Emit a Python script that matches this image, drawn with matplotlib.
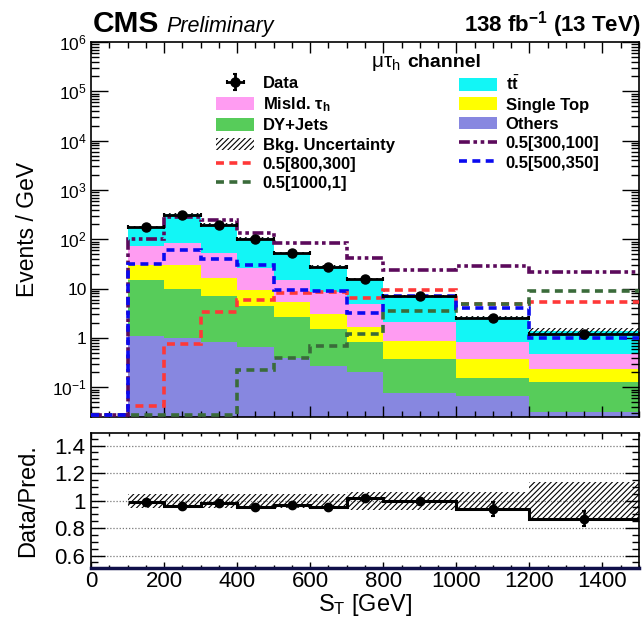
import numpy as np
import matplotlib
matplotlib.use('Agg')
import matplotlib.pyplot as plt
from matplotlib.patches import Patch
from matplotlib.lines import Line2D
from matplotlib.ticker import FixedLocator, MultipleLocator, FuncFormatter, LogLocator, NullFormatter

plt.rcParams['font.family'] = ['Liberation Sans', 'DejaVu Sans']
plt.rcParams['mathtext.fontset'] = 'custom'
plt.rcParams['mathtext.rm'] = 'Liberation Sans'
plt.rcParams['mathtext.it'] = 'Liberation Sans:italic'
plt.rcParams['mathtext.bf'] = 'Liberation Sans:bold'
plt.rcParams['hatch.linewidth'] = 0.8

# ---------------- data ----------------
bin_edges = [100, 200, 300, 400, 500, 600, 700, 800, 1000, 1200, 1500]
signal_edges = [0, 100, 200, 300, 400, 500, 600, 700, 800, 1000, 1200, 1500]

others = [1.1, 1.0, 0.83, 0.66, 0.40, 0.27, 0.205, 0.075, 0.067, 0.032]
dyjets = [13.8, 9.0, 6.2, 3.84, 2.3, 1.23, 0.63, 0.305, 0.088, 0.098]
single_top = [15.1, 20.0, 9.5, 4.8, 2.6, 1.5, 0.85, 0.49, 0.215, 0.11]
misid_tau = [43.0, 55.0, 35.5, 16.4, 9.5, 5.6, 3.2, 1.23, 0.46, 0.23]
ttbar = [104.0, 237.0, 148.0, 79.3, 39.2, 20.4, 10.8, 5.0, 1.82, 0.9]

data = [175, 310, 195, 100, 52, 27.7, 16.0, 7.1, 2.5, 1.2]

ratio = [0.988, 0.961, 0.985, 0.957, 0.966, 0.952, 1.017, 0.998, 0.94, 0.867]
ratio_err = [0.010, 0.010, 0.012, 0.012, 0.015, 0.017, 0.02, 0.02, 0.05, 0.055]
unc_low = [0.944, 0.944, 0.944, 0.944, 0.944, 0.944, 0.935, 0.932, 0.932, 0.865]
unc_high = [1.046, 1.046, 1.046, 1.046, 1.046, 1.046, 1.062, 1.065, 1.065, 1.138]

sig_300_100 = [0, 100, 285, 245, 135, 83, 83, 41, 23.7, 28.6, 21.3]
sig_500_350 = [0, 31, 62, 40, 30, 9.6, 8.9, 3.2, 7.0, 4.0, 1.0]
sig_800_300 = [0, 0.042, 0.74, 3.3, 5.85, 8.0, 8.6, 6.6, 9.3, 4.9, 5.4]
sig_1000_1 = [0, 0, 0, 0, 0.22, 0.40, 0.68, 1.19, 3.5, 4.9, 9.0]

y_ticks_main = [1e-1, 1, 10, 1e2, 1e3, 1e4, 1e5, 1e6]
x_ticks = [0, 200, 400, 600, 800, 1000, 1200, 1400]
ratio_ticks = [0.6, 0.8, 1.0, 1.2, 1.4]

# ---------------- styling ----------------
C_OTH = '#8787E0'
C_DY = '#57CC5A'
C_ST = '#FFFF00'
C_MIS = '#FF9CF2'
C_TT = '#12F6F6'
C_RED = '#FF3838'
C_GRN = '#3A6B3A'
C_PUR = '#5C0A5C'
C_BLU = '#0A0AF0'

YMIN, YMAX = 0.025, 1e6
W, H = 642, 622
fig = plt.figure(figsize=(W / 100, H / 100), dpi=100)

ax = fig.add_axes([91 / W, 1 - 417 / H, (639 - 91) / W, (417 - 42) / H])
axr = fig.add_axes([91 / W, 1 - 568 / H, (639 - 91) / W, (568 - 432.5) / H])

edges = np.array(bin_edges, dtype=float)
sedges = np.array(signal_edges, dtype=float)
centers = 0.5 * (edges[:-1] + edges[1:])
half = 0.5 * np.diff(edges)

comps = [(others, C_OTH), (dyjets, C_DY), (single_top, C_ST), (misid_tau, C_MIS), (ttbar, C_TT)]
base = np.full(len(others), YMIN * 0.5)
cum = np.zeros(len(others))
for vals, col in comps:
    top = cum + np.array(vals)
    ax.stairs(top, edges, baseline=base if cum.sum() == 0 else cum, fill=True,
              facecolor=col, edgecolor='none', linewidth=0, zorder=1)
    cum = top
total = cum

# bkg uncertainty band
ax.stairs(total * np.array(unc_high), edges, baseline=total * np.array(unc_low), fill=True,
          facecolor='none', edgecolor='black', hatch='//////', linewidth=0, zorder=2)

# signals
DASH = (0, (2.2, 1.5))
DASHDOT = (0, (3.0, 1.0, 1.0, 1.0, 1.0, 1.0))
sig_styles = [
    (sig_800_300, C_RED, DASH),
    (sig_1000_1, C_GRN, DASH),
    (sig_300_100, C_PUR, DASHDOT),
    (sig_500_350, C_BLU, DASH),
]
for vals, col, ls in sig_styles:
    v = np.clip(np.array(vals, dtype=float), YMIN * 1.08, None)
    ax.stairs(v, sedges, baseline=None, color=col, linewidth=2.6, linestyle=ls, zorder=3)

# data
data_arr = np.array(data, dtype=float)
data_err = data_arr * np.array(ratio_err) / np.array(ratio)
eb = ax.errorbar(centers, data_arr, xerr=half, yerr=data_err, fmt='o', color='black',
                 ms=6.5, lw=2.0, capsize=1.5, capthick=1.5, zorder=4)

ax.set_yscale('log')
ax.set_xlim(0, 1500)
ax.set_ylim(YMIN, YMAX)
ax.yaxis.set_major_locator(FixedLocator(y_ticks_main))


def fmt_log(v, pos):
    e = int(round(np.log10(v)))
    if e == 0:
        return '1'
    if e == 1:
        return '10'
    return r'$10^{%d}$' % e


ax.yaxis.set_major_formatter(FuncFormatter(fmt_log))
ax.yaxis.set_minor_locator(LogLocator(base=10, subs=np.arange(2, 10), numticks=20))
ax.yaxis.set_minor_formatter(NullFormatter())
ax.xaxis.set_major_locator(FixedLocator(x_ticks))
ax.xaxis.set_minor_locator(MultipleLocator(50))
ax.tick_params(which='both', direction='in', top=True, right=True, labelbottom=False)
ax.xaxis.set_tick_params(which='major', length=8, width=1)
ax.xaxis.set_tick_params(which='minor', length=4, width=1)
ax.yaxis.set_tick_params(which='major', length=12, width=1, labelsize=12.5, pad=3)
ax.yaxis.set_tick_params(which='minor', length=6, width=1)
ax.set_ylabel('Events / GeV', fontsize=16.5)
ax.yaxis.set_label_coords(-0.095, 0.5)
for s in ax.spines.values():
    s.set_linewidth(1.2)

# ratio panel
for t in ratio_ticks:
    axr.axhline(t, color='#777777', lw=0.9, ls=(0, (1, 1.5)), zorder=0)
axr.stairs(np.array(unc_high), edges, baseline=np.array(unc_low), fill=True,
           facecolor='none', edgecolor='black', hatch='//////', linewidth=0, zorder=1)
axr.stairs(np.array(ratio), edges, baseline=None, color='black', linewidth=2.2, zorder=2)
axr.errorbar(centers, ratio, yerr=ratio_err, fmt='o', color='black', ms=6, lw=1.8,
             capsize=1.5, capthick=1.5, zorder=3)
axr.set_xlim(0, 1500)
axr.set_ylim(0.51, 1.495)
axr.yaxis.set_major_locator(FixedLocator(ratio_ticks))
axr.yaxis.set_major_formatter(FuncFormatter(lambda v, p: '%g' % v))
axr.yaxis.set_minor_locator(MultipleLocator(0.05))
axr.xaxis.set_major_locator(FixedLocator(x_ticks))
axr.xaxis.set_minor_locator(MultipleLocator(50))
axr.tick_params(which='both', direction='in', top=True, right=True)
axr.xaxis.set_tick_params(which='major', length=4, width=1, labelsize=16, pad=2)
axr.xaxis.set_tick_params(which='minor', length=2.5, width=1)
axr.yaxis.set_tick_params(which='major', length=10, width=1, labelsize=16, pad=4)
axr.yaxis.set_tick_params(which='minor', length=5, width=1)
axr.set_ylabel('Data/Pred.', fontsize=17)
axr.yaxis.set_label_coords(-0.095, 0.5)
axr.set_xlabel(r'S$_{\mathregular{T}}$ [GeV]', fontsize=17, labelpad=0)
axr.xaxis.set_label_coords(0.5, -0.18)
for s in axr.spines.values():
    s.set_linewidth(1.2)
axr.spines['bottom'].set_color('#10104a')
axr.spines['bottom'].set_linewidth(2.5)

# header texts
fig.text(93 / W, 1 - 32 / H, 'CMS', fontsize=21.5, fontweight='bold', va='baseline', ha='left')
fig.text(166 / W, 1 - 32 / H, 'Preliminary', fontsize=15.5, fontstyle='italic', va='baseline', ha='left')
fig.text(640 / W, 1 - 32 / H, r'138 fb$^{\mathbf{-1}}$ (13 TeV)', fontsize=16, fontweight='bold',
         va='baseline', ha='right')
fig.text(401 / W, 1 - 67 / H, r'$\mathregular{\mu\tau_{h}}$', fontsize=15, va='baseline', ha='right')
fig.text(407 / W, 1 - 67 / H, 'channel', fontsize=14, fontweight='bold', va='baseline', ha='left')

# legends
lp = dict(family=['Liberation Sans', 'DejaVu Sans'], weight='bold', size=12)
h_left = [eb,
          Patch(facecolor=C_MIS, edgecolor='none'),
          Patch(facecolor=C_DY, edgecolor='none'),
          Patch(facecolor='none', edgecolor='black', hatch='//////', linewidth=0),
          Line2D([], [], color=C_RED, lw=2.6, ls=DASH),
          Line2D([], [], color=C_GRN, lw=2.6, ls=DASH)]
l_left = ['Data', r'Misld. $\mathregular{\tau_{h}}$', 'DY+Jets', 'Bkg. Uncertainty', '0.5[800,300]', '0.5[1000,1]']
h_right = [Patch(facecolor=C_TT, edgecolor='none'),
           Patch(facecolor=C_ST, edgecolor='none'),
           Patch(facecolor=C_OTH, edgecolor='none'),
           Line2D([], [], color=C_PUR, lw=2.6, ls=DASHDOT),
           Line2D([], [], color=C_BLU, lw=2.6, ls=DASH)]
l_right = [r't$\bar{\mathbf{t}}$', 'Single Top', 'Others', '0.5[300,100]', '0.5[500,350]']

common = dict(loc='upper left', frameon=False, prop=lp, handlelength=2.3, handleheight=0.8,
              handletextpad=0.5, labelspacing=0.25, borderpad=0, borderaxespad=0)
leg1 = fig.legend(h_left, l_left, bbox_to_anchor=(216 / W, 1 - 76 / H), **common)
leg2 = fig.legend(h_right, l_right, bbox_to_anchor=(459 / W, 1 - 75 / H), **common)

fig.savefig('out.png', dpi=100)
